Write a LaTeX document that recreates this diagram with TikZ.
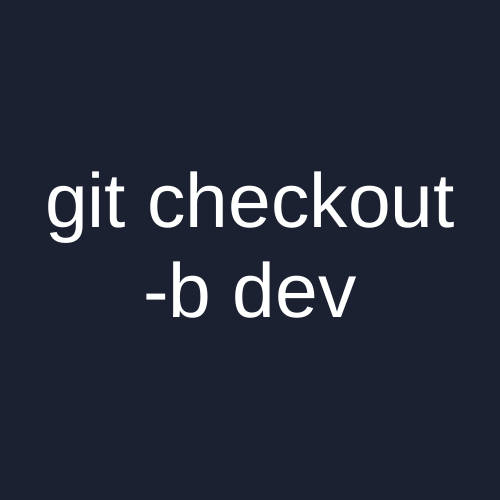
\documentclass[tikz,border=0pt]{standalone}
\usepackage{fontspec}
\setmainfont{Liberation Sans}
\usepackage{xcolor}
\usetikzlibrary{positioning}
\definecolor{bgdark}{HTML}{1B2130}
\definecolor{textlight}{HTML}{FFFFFF}
\tikzset{
    % Command text style
    command text/.style={
        font=\fontsize{43.7pt}{51.2pt}\selectfont,
        text=textlight,
        anchor=base,
        inner sep=0pt
    }
}
\begin{document}
\begin{tikzpicture}
    % Background
    \fill[bgdark] (0,0) rectangle (10,10);
    \useasboundingbox (0,0) rectangle (10,10);
    % Command lines
    \node[command text] (cmd) at (5,5.44) {git checkout};
    \node[command text] (branch) at (5,3.64) {-b dev};
\end{tikzpicture}
\end{document}
